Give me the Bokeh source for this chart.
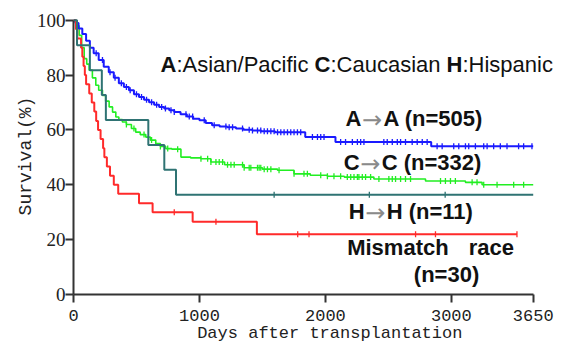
import numpy as np
from bokeh.plotting import figure
from bokeh.models import Range1d, FixedTicker, Label
from bokeh.embed import file_html
from bokeh.resources import INLINE

# ---------------- data ----------------
# A->A (Asian/Pacific, n=505)
aa_days = [0, 15, 40, 70, 100, 130, 160, 200, 240, 280, 320, 360, 400, 440, 480, 520, 560,
           600, 640, 680, 720, 760, 800, 850, 900, 950, 1000, 1050, 1100, 1160, 1220, 1290,
           1350, 1420, 1490, 1600, 1840, 2080, 2840, 3650]
aa_surv = [100, 99, 97, 95, 92.5, 90, 88, 85.5, 83, 81, 79, 77, 75.7, 74.5, 73, 72, 71,
           70.1, 69.2, 68.4, 67.8, 67.2, 66.5, 65.7, 64.9, 64.1, 63.5, 62.5, 61.7, 61.3, 61.0, 60.5,
           60.1, 59.8, 59.5, 59.2, 57.4, 55.6, 54.1, 54.1]
aa_cens = [180, 230, 290, 330, 380, 420, 450, 500, 540, 580, 620, 660, 700, 730, 774, 800, 893,
           919, 946, 1038, 1117, 1210, 1236, 1263, 1342, 1395, 1421, 1461, 1487, 1514, 1540,
           1567, 1593, 1620, 1646, 1672, 1699, 1725, 1751, 1778, 1804, 1897, 1937, 1963, 1989,
           2121, 2160, 2214, 2254, 2280, 2306, 2464, 2491, 2531, 2571, 2597, 2636, 2689, 2729,
           2769, 2808, 2887, 2927, 3019, 3059, 3112, 3138, 3191, 3257, 3284, 3336, 3389, 3442,
           3534, 3574, 3640]

# C->C (Caucasian, n=332)
cc_days = [0, 20, 45, 65, 85, 105, 124, 150, 177, 200, 230, 255, 283, 310, 336, 360, 388, 420,
           460, 494, 530, 574, 610, 653, 690, 732, 780, 853, 930, 1012, 1091, 1200, 1355, 1500,
           1620, 1751, 1880, 2016, 2150, 2385, 2795, 3112, 3244, 3650]
cc_surv = [100, 98, 94.5, 90, 86, 84, 81.8, 79, 76.3, 74.5, 72.6, 70.5, 68.4, 66.5, 64.7, 63.8,
           62.9, 62, 60.5, 59.2, 58.3, 57.4, 56.3, 55, 54, 53.2, 53, 50.1, 49.8, 49.5, 48.3, 47.3,
           46.2, 45.7, 45.3, 44, 43.5, 43.1, 42.8, 42.1, 41.4, 40.9, 40.0, 40.0]
cc_cens = [420, 480, 560, 620, 690, 748, 827, 1012, 1065, 1091, 1131, 1157, 1184, 1223, 1250,
           1276, 1342, 1355, 1395, 1408, 1461, 1474, 1487, 1514, 1540, 1567, 1632, 1751, 1830,
           1857, 1963, 2016, 2068, 2121, 2174, 2201, 2227, 2254, 2266, 2293, 2319, 2359, 2425,
           2504, 2531, 2557, 2597, 2636, 2676, 2914, 2953, 2993, 3032, 3165, 3204, 3257, 3363,
           3495, 3574]

# H->H (Hispanic, n=11)
hh_days = [0, 28, 130, 225, 257, 594, 721, 814, 3650]
hh_surv = [100, 90.9, 81.8, 72.7, 63.6, 54.5, 45.5, 36.4, 36.4]
hh_cens = [1593, 2349, 2951]

# Mismatch race (n=30)
mm_days = [0, 20, 30, 60, 70, 80, 90, 100, 125, 145, 165, 180, 195, 215, 235, 245, 265, 290,
           320, 355, 520, 628, 946, 1456, 3521]
mm_surv = [100, 96.7, 93.3, 90, 86.7, 83.3, 80, 76.7, 73.3, 70, 66.7, 63.3, 60, 56.7, 53.3,
           50, 46.7, 43.3, 40, 36.7, 33.3, 30.0, 26.5, 22.0, 22.0]
mm_cens = [800, 1131, 1780, 1870, 2716, 2874, 3521]

x_ticks = [0, 1000, 2000, 3000, 3650]
y_ticks = [0, 20, 40, 60, 80, 100]

# ---------------- figure ----------------
p = figure(width=555, height=345, output_backend="svg", toolbar_location=None,
           x_range=Range1d(0, 3827), y_range=Range1d(0, 101),
           min_border_left=73, min_border_right=0, min_border_top=17, min_border_bottom=51)
p.background_fill_color = "white"
p.border_fill_color = "white"
p.outline_line_color = None
p.grid.visible = False

AX = "#333333"
for ax in (p.xaxis[0], p.yaxis[0]):
    ax.axis_line_color = AX
    ax.axis_line_width = 2
    ax.major_tick_line_color = AX
    ax.major_tick_line_width = 2
    ax.major_tick_out = 8
    ax.major_tick_in = 0
    ax.minor_tick_line_color = None
    ax.major_label_text_color = "#222222"
    ax.axis_label_text_font = "Liberation Mono"
    ax.axis_label_text_font_style = "normal"
    ax.axis_label_text_color = "#222222"

p.xaxis.ticker = FixedTicker(ticks=x_ticks)
p.yaxis.ticker = FixedTicker(ticks=y_ticks)
p.xaxis.bounds = (0, 3650)
p.yaxis.bounds = (0, 100)
p.yaxis.major_label_text_font = "Liberation Serif"
p.yaxis.major_label_text_font_size = "19px"
p.yaxis.major_label_standoff = 0
p.xaxis.major_label_text_font = "Liberation Mono"
p.xaxis.major_label_text_font_size = "17px"
p.xaxis.major_label_standoff = 7

p.xaxis.axis_label = "\u00a0\u00a0\u00a0Days after transplantation"
p.xaxis.axis_label_text_font_size = "17px"
p.xaxis.axis_label_standoff = 0
p.yaxis.axis_label = "Survival(%)"
p.yaxis.axis_label_text_font_size = "18px"
p.yaxis.axis_label_standoff = -2


def km(days, surv, cens, color, lw):
    d = np.asarray(days, dtype=float)
    s = np.asarray(surv, dtype=float)
    p.step(d, s, mode="after", line_color=color, line_width=lw)
    c = np.asarray(cens, dtype=float)
    idx = np.searchsorted(d, c, side="right") - 1
    p.scatter(c, s[idx], marker="dash", angle=np.pi / 2, size=6,
              line_color=color, line_width=1.3)


km(cc_days, cc_surv, cc_cens, "#22ee22", 1.6)
km(aa_days, aa_surv, aa_cens, "#1a1aff", 2)
km(mm_days, mm_surv, mm_cens, "#ff2a2a", 2)
km(hh_days, hh_surv, hh_cens, "#2f7373", 2)


def txt(x, y, s, dx=0, bold=True, color="#111111", size="22px", font="Liberation Sans",
        dy=0):
    p.add_layout(Label(x=x, y=y, text=s, x_offset=dx, y_offset=dy, text_font=font,
                       text_font_size=size, text_font_style="bold" if bold else "normal",
                       text_color=color, text_baseline="alphabetic"))


# legend line
lx, ly = 691, 83.8
txt(lx, ly, "A", 0, True)
txt(lx, ly, ":Asian/Pacific", 15.9, False)
txt(lx, ly, "C", 154, True)
txt(lx, ly, ":Caucasian", 169.9, False)
txt(lx, ly, "H", 286, True)
txt(lx, ly, ":Hispanic", 301.9, False)

# group labels
for (gx, gy, a, b) in [(2160, 64.1, "A", "A (n=505)"),
                       (2146, 48.1, "C", "C (n=332)"),
                       (2186, 30.2, "H", "H (n=11)")]:
    txt(gx, gy, a, 0, True)
    txt(gx, gy, "\u2192", 16.5, False, color="#8a8a8a", size="24px", font="DejaVu Sans",
        dy=-1)
    txt(gx, gy, b, 37.9, True)

txt(2173, 17.1, "Mismatch", 0, True)
txt(3138, 17.1, "race", 0, True)
txt(2702, 7.3, "(n=30)", 0, True)

open("out.html", "w").write(file_html(p, INLINE))
